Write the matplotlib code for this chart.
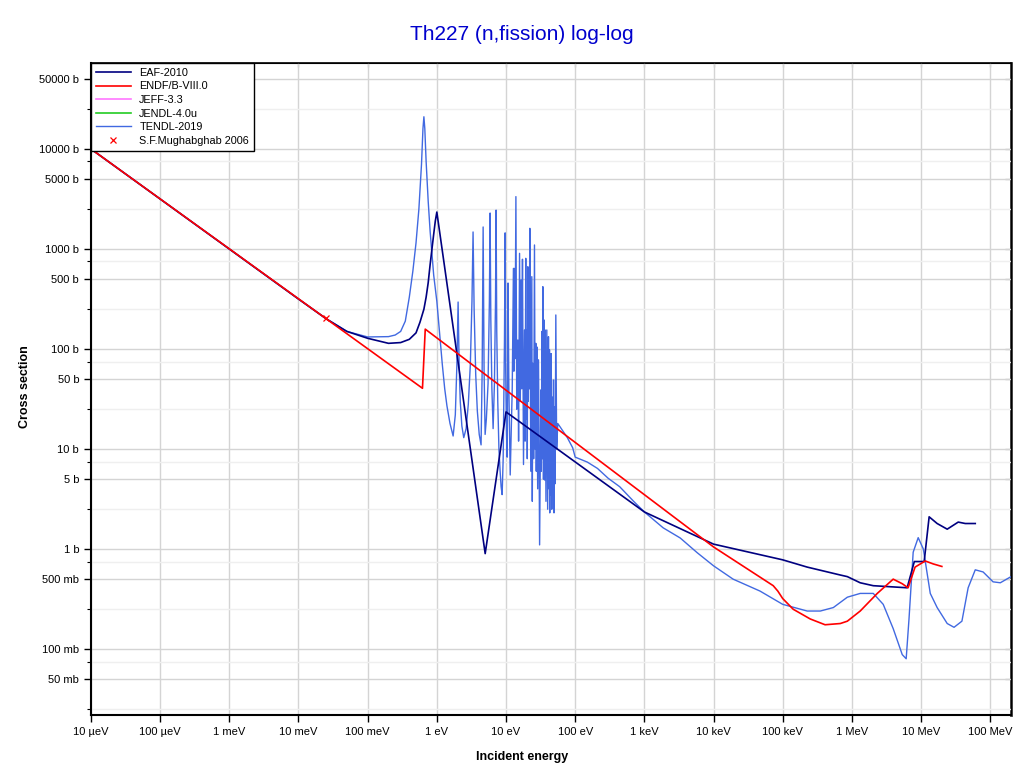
import matplotlib
matplotlib.use("Agg")
import matplotlib.pyplot as plt
from matplotlib.ticker import FixedLocator, FuncFormatter, NullFormatter

plt.rcParams['font.family'] = ['Liberation Sans', 'DejaVu Sans']

# energies in eV, cross sections in barn
eaf_e = [1e-5, 0.01, 0.0253, 0.05, 0.1, 0.2, 0.3, 0.4, 0.5, 0.57, 0.65, 0.7, 0.75,
         0.8, 0.85, 0.9, 0.95, 1.0, 5.0, 10.0, 1e3, 1e4, 1e5, 2.26e5, 6.8e5, 8.6e5,
         1.32e6, 2.04e6, 6.3e6, 8.0e6, 1.11e7, 1.31e7, 1.71e7, 2.39e7, 3.45e7,
         4.36e7, 6.08e7]
eaf_xs = [10000, 316, 200, 150, 128, 114, 116, 125, 145, 185, 250, 330, 460,
          700, 1000, 1400, 1900, 2340, 0.9, 23.5, 2.35, 1.12, 0.78, 0.66, 0.55, 0.53,
          0.46, 0.43, 0.41, 0.75, 0.75, 2.1, 1.8, 1.58, 1.86,
          1.8, 1.8]

endf_e = [1e-5, 0.62, 0.68, 1e4, 7.3e4, 8.5e4, 1.0e5, 1.42e5, 2.5e5, 4.1e5, 6.8e5,
          8.6e5, 1.32e6, 2.33e6, 3.96e6, 5.35e6, 6.5e6, 8.2e6, 1.15e7, 1.5e7, 2.0e7]
endf_xs = [10000, 40.5, 158, 1.05, 0.43, 0.38, 0.32, 0.25, 0.2, 0.175, 0.18,
           0.19, 0.24, 0.36, 0.5, 0.45, 0.41, 0.66, 0.76, 0.71, 0.67]

# no points inside the plotted range for these two
jeff_e, jeff_xs = [], []
jendl_e, jendl_xs = [], []

tendl_e = [1e-5, 0.01, 0.0253, 0.05, 0.1, 0.2, 0.25, 0.3, 0.35, 0.4, 0.45, 0.5,
           0.55, 0.6, 0.63, 0.65, 0.67, 0.7, 0.75, 0.8, 0.9, 1.0, 1.1, 1.2, 1.3,
           1.4, 1.55, 1.72, 1.85, 1.95, 2.03, 2.1, 2.18, 2.3, 2.45, 2.65, 2.85,
           3.05, 3.22, 3.34, 3.46, 3.65, 3.85, 4.1, 4.36, 4.52, 4.67, 4.82, 4.99,
           5.2, 5.5, 5.75, 5.89, 6.03, 6.25, 6.51, 6.8, 7.05, 7.19, 7.35, 7.6, 7.9,
           8.22, 8.5, 8.79, 9.1, 9.5, 9.71, 9.9, 10.15, 10.4, 10.7, 11.0, 11.5,
           12.3, 12.8, 13.0, 13.2, 13.5, 13.9, 14.3, 14.8, 15.2, 15.7, 16.1, 16.5,
           16.9, 17.3, 17.9, 18.5, 18.9, 19.3, 19.6, 20.0, 20.3, 20.7, 21.0, 21.4,
           21.7, 22.1, 22.8, 23.6, 24.0, 24.4, 25.1, 25.8, 26.4, 27.0, 27.4, 27.9,
           28.7, 29.5, 30.6, 31.9, 32.4, 33.0, 33.5, 34.1, 34.8, 35.6, 36.2, 36.8,
           37.8, 38.9, 40.0, 41.1, 41.8, 42.5, 42.9, 43.4, 44.1, 44.9, 45.9, 47.0,
           47.8, 48.6, 49.4, 50.2, 51.3, 52.5, 54.0, 56.0, 60, 77, 92, 100, 150,
           210, 300, 440, 700, 1000, 1870, 3300, 5800, 1e4, 1.92e4, 4.7e4, 1e5,
           2.26e5, 3.5e5, 5.4e5, 8.6e5, 1.32e6, 2.04e6, 2.84e6, 3.96e6, 5.35e6,
           6.1e6, 6.7e6, 7.7e6, 9.1e6, 1.08e7, 1.36e7, 1.71e7, 2.39e7, 3.0e7,
           3.9e7, 4.8e7, 6.08e7, 7.9e7, 1.1e8, 1.4e8, 2.0e8]
tendl_xs = [10000, 316, 200, 150, 132, 133, 138, 150, 190, 330, 600, 1150,
            2500, 7000, 16000, 21000, 16000, 7500, 3000, 1500, 550, 300, 140, 70, 40,
            27, 18, 13.5, 22, 70, 295, 70, 30, 17, 13, 16, 28,
            70, 300, 1480, 250, 55, 24, 14, 11, 60, 1660, 60, 14,
            20, 45, 300, 2290, 200, 40, 16, 45, 300, 2450, 150, 30, 10,
            6, 4.2, 3.5, 8, 120, 1450, 60, 15, 8.3, 457, 40, 5.5,
            40, 640, 60, 640, 80, 3340, 25, 123, 12, 905, 30, 490,
            40, 790, 7, 155, 12, 807, 20, 155, 8, 665, 30, 333,
            40, 1610, 6, 529, 3, 72, 8, 1097, 10, 114, 6, 105,
            4, 78, 1.1, 39, 6, 150, 8, 420, 5, 195, 4.9, 155,
            3, 155, 2.5, 133, 4, 98, 2.3, 72, 3.5, 90, 2.5, 33,
            5, 49, 2.3, 26.5, 4.5, 219, 10, 18, 16.8, 13, 10.3, 8.3, 7.4,
            6.4, 5.1, 4.2, 3.0, 2.35, 1.63, 1.29, 0.92, 0.68, 0.5, 0.38, 0.28,
            0.24, 0.24, 0.26, 0.33, 0.36, 0.36, 0.28, 0.16, 0.088,
            0.08, 0.2, 0.93, 1.3, 1.0, 0.36, 0.26, 0.18, 0.165,
            0.19, 0.41, 0.62, 0.59, 0.47, 0.46, 0.53]

exp_e = [0.0253]
exp_xs = [202]

x_ticks = [1e-5, 1e-4, 1e-3, 1e-2, 1e-1, 1, 10, 100, 1e3, 1e4, 1e5, 1e6, 1e7, 1e8]
x_labels = ['10 µeV', '100 µeV', '1 meV', '10 meV', '100 meV', '1 eV', '10 eV',
            '100 eV', '1 keV', '10 keV', '100 keV', '1 MeV', '10 MeV', '100 MeV']
y_ticks = [0.05, 0.1, 0.5, 1, 5, 10, 50, 100, 500, 1000, 5000, 10000, 50000]
y_minor = [0.025, 0.075, 0.25, 0.75, 2.5, 7.5, 25, 75, 250, 750, 2500, 7500, 25000]


def barn_label(v, pos):
    if v >= 1:
        return f"{v:g} b"
    return f"{v * 1000:g} mb"


fig = plt.figure(figsize=(10.2, 7.73), dpi=100)
ax = fig.add_axes([0.0892, 0.075, 0.902, 0.8435])

ax.plot(tendl_e, tendl_xs, color='#4169e1', lw=1.0, label='TENDL-2019', zorder=2)
ax.plot(eaf_e, eaf_xs, color='#000080', lw=1.2, label='EAF-2010', zorder=3)
ax.plot(endf_e, endf_xs, color='#ff0000', lw=1.2, label='ENDF/B-VIII.0', zorder=4)
ax.plot(jeff_e, jeff_xs, color='#ff77ff', lw=1.2, label='JEFF-3.3')
ax.plot(jendl_e, jendl_xs, color='#22cc22', lw=1.2, label='JENDL-4.0u')
ax.plot(exp_e, exp_xs, 'x', color='red', ms=5, mew=0.9,
        label='S.F.Mughabghab 2006', zorder=5)

ax.set_xscale('log')
ax.set_yscale('log')
ax.set_xlim(1e-5, 2e8)
ax.set_ylim(0.0219, 72400)

ax.xaxis.set_major_locator(FixedLocator(x_ticks))
ax.xaxis.set_minor_locator(FixedLocator([]))
ax.set_xticklabels(x_labels)
ax.yaxis.set_major_locator(FixedLocator(y_ticks))
ax.yaxis.set_major_formatter(FuncFormatter(barn_label))
ax.yaxis.set_minor_locator(FixedLocator(y_minor))
ax.yaxis.set_minor_formatter(NullFormatter())

ax.tick_params(which='both', direction='out', labelsize=8, top=False, right=False)
ax.tick_params(which='major', length=5, width=1)
ax.tick_params(which='minor', length=3, width=0.8)

# inward ticks on top and right
sec_y = ax.secondary_yaxis('right')
sec_y.yaxis.set_major_locator(FixedLocator(y_ticks))
sec_y.yaxis.set_minor_locator(FixedLocator(y_minor))
sec_y.tick_params(which='both', direction='in', labelright=False, length=4)
sec_y.spines['right'].set_linewidth(2)
sec_y.spines['right'].set_color('#333333')
sec_x = ax.secondary_xaxis('top')
sec_x.xaxis.set_major_locator(FixedLocator(x_ticks))
sec_x.xaxis.set_minor_locator(FixedLocator([]))
sec_x.tick_params(which='both', direction='in', labeltop=False, length=3)

ax.grid(True, which='major', color='#d4d4d4', lw=1.0)
ax.grid(True, which='minor', axis='y', color='#efefef', lw=1.0)
ax.set_axisbelow(True)

for s in ['left', 'bottom']:
    ax.spines[s].set_linewidth(1.5)
ax.spines['top'].set_linewidth(1.2)

leg = ax.legend(handles=[ax.lines[1], ax.lines[2], ax.lines[3], ax.lines[4],
                         ax.lines[0], ax.lines[5]],
                loc='upper left', borderaxespad=0, fontsize=7.8, fancybox=False,
                framealpha=1, edgecolor='black', handlelength=3.2,
                labelspacing=0.33, borderpad=0.45)
leg.get_frame().set_linewidth(1.0)

fig.text(0.512, 0.955, 'Th227 (n,fission) log-log', ha='center', va='center',
         fontsize=15, color='#0000cd')
fig.text(0.512, 0.021, 'Incident energy', ha='center', va='center',
         fontsize=9, fontweight='bold')
fig.text(0.025, 0.5, 'Cross section', ha='center', va='center', rotation=90,
         fontsize=9, fontweight='bold')

plt.savefig('out.png', dpi=100)
plt.close()
